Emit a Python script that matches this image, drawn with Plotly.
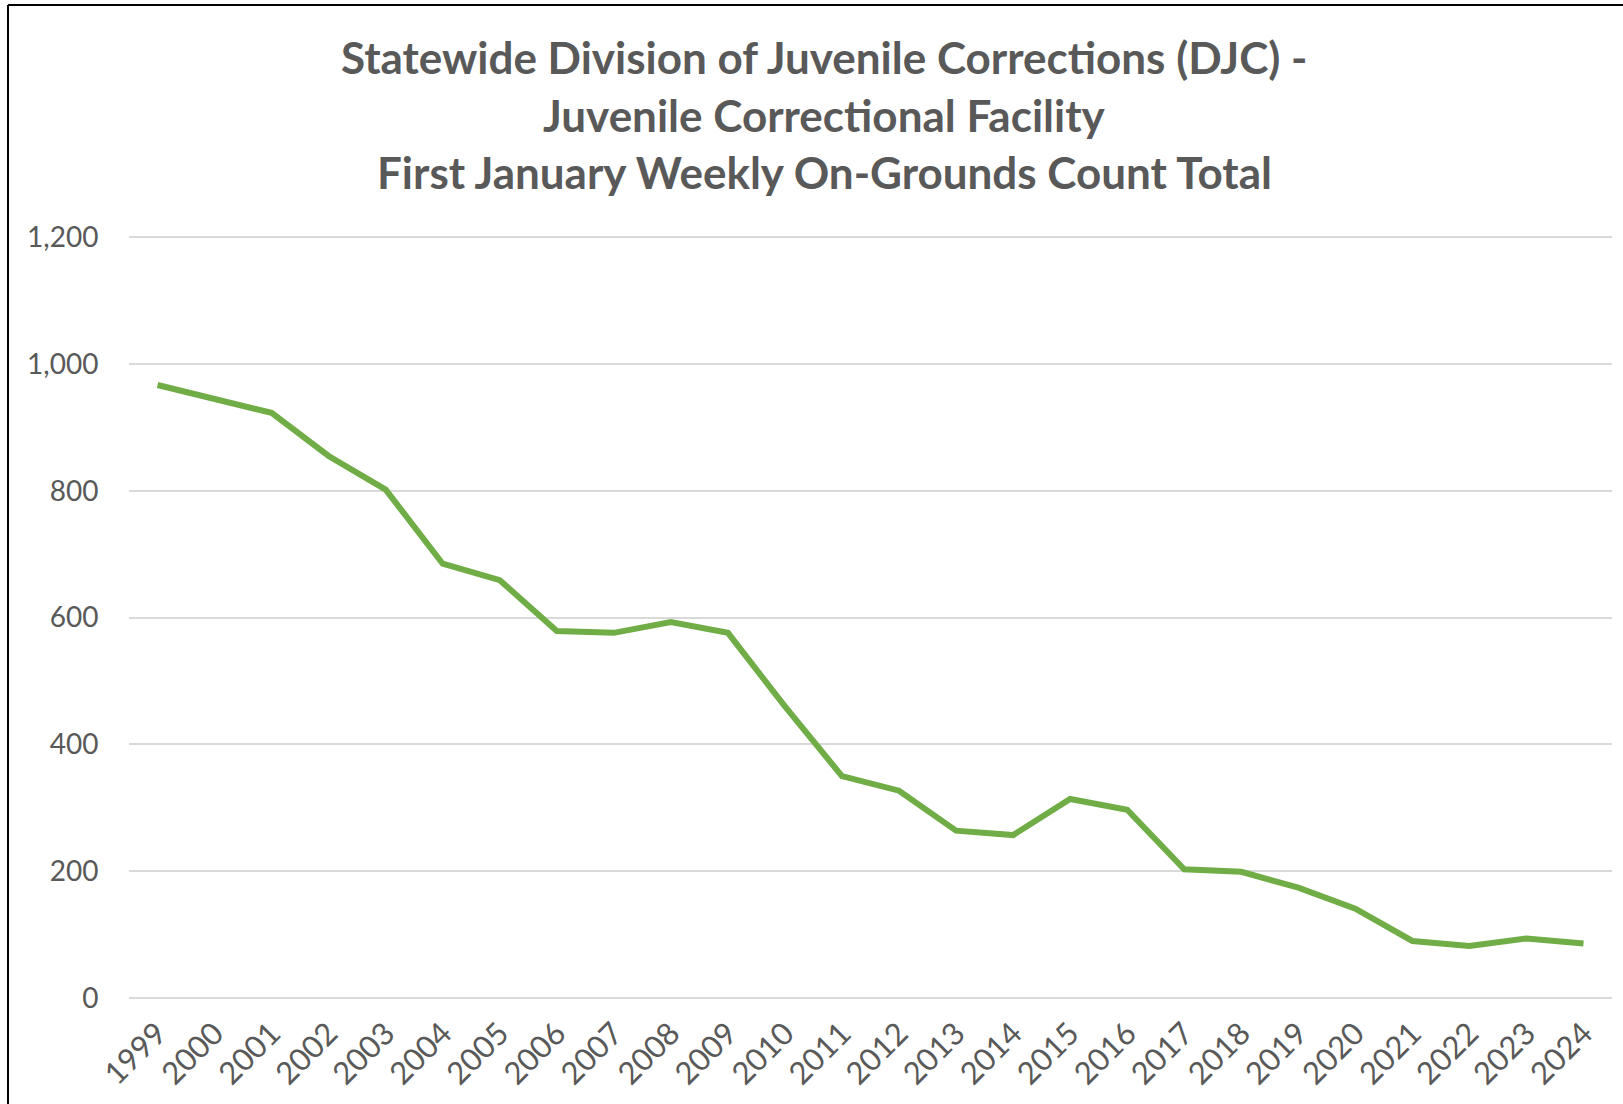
import plotly.graph_objects as go

years = [str(y) for y in range(1999, 2025)]
counts = [967, 945, 923, 855, 802, 685, 659, 579, 576, 593, 576, 460, 350, 327,
          264, 257, 314, 297, 203, 199, 174, 141, 90, 82, 94, 86]
title_lines = [
    "Statewide Division of Juvenile Corrections (DJC) -",
    "Juvenile Correctional Facility",
    "First January Weekly On-Grounds Count Total",
]
y_ticks = [0, 200, 400, 600, 800, 1000, 1200]
y_tick_text = ["0", "200", "400", "600", "800", "1,000", "1,200"]

W, H = 1623, 1104
Y_MAX = 1202
ML, MR, MT, MB = 129, 11, 236, 106
PW, PH = W - ML - MR, H - MT - MB

def px_x(x):
    return (x - ML) / PW

def px_y(y):
    return (H - MB - y) / PH

FONT = "Lato"
GREY = "#595959"

fig = go.Figure()
fig.add_trace(go.Scatter(
    x=years, y=counts, mode="lines",
    line=dict(color="#70AD47", width=6),
    showlegend=False, hoverinfo="x+y",
))

title_centers = [57, 115, 172]
for txt, yc in zip(title_lines, title_centers):
    fig.add_annotation(
        text=txt, xref="paper", yref="paper", x=px_x(824), y=px_y(yc),
        xanchor="center", yanchor="middle", showarrow=False,
        font=dict(family=FONT, size=44, color=GREY, weight="bold"),
    )

fig.add_shape(type="line", xref="paper", yref="paper",
              x0=px_x(8), x1=px_x(8), y0=px_y(5), y1=px_y(H + 10),
              line=dict(color="#000000", width=2))
fig.add_shape(type="line", xref="paper", yref="paper",
              x0=px_x(8), x1=px_x(W + 10), y0=px_y(5), y1=px_y(5),
              line=dict(color="#000000", width=2))

fig.update_layout(
    width=W, height=H,
    margin=dict(l=ML, r=MR, t=MT, b=MB),
    paper_bgcolor="white", plot_bgcolor="white",
    font=dict(family=FONT, color=GREY),
    xaxis=dict(
        type="category", range=[-0.5, len(years) - 0.5],
        showgrid=False, showline=False, zeroline=False,
        tickangle=-45, tickfont=dict(size=31, color=GREY),
        ticks="outside", ticklen=4, tickcolor="rgba(0,0,0,0)",
    ),
    yaxis=dict(
        range=[0, Y_MAX], tickvals=y_ticks, ticktext=y_tick_text,
        showgrid=True, gridcolor="#D9D9D9", gridwidth=1.5,
        zeroline=True, zerolinecolor="#D9D9D9", zerolinewidth=1.5,
        showline=False, tickfont=dict(size=28, color=GREY),
        ticks="outside", ticklen=24, tickcolor="rgba(0,0,0,0)",
    ),
)

fig.write_html(
    "out.html",
    config={"displayModeBar": False},
    post_script="document.body.style.margin='0';document.body.style.overflow='hidden';",
)
